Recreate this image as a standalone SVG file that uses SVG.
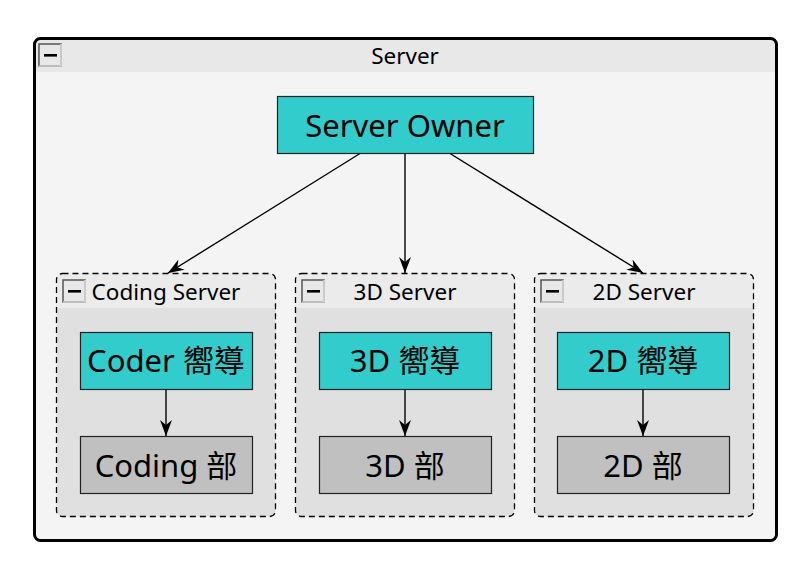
<svg xmlns="http://www.w3.org/2000/svg" width="810" height="584" viewBox="0 0 810 584">
<style>
text{font-family:"Noto Sans","Noto Sans CJK TC",sans-serif;fill:#000;text-anchor:middle;dominant-baseline:central}
.title{font-size:22.5px}
.big{font-size:31px}
.lead{fill:#33cccc;stroke:#222;stroke-width:1.2}
.dept{fill:#c0c0c0;stroke:#222;stroke-width:1.2}
.grp{fill:#e0e0e0;stroke:none}
.grphd{fill:#ebebeb}
.grpbd{fill:none;stroke:#000;stroke-width:1.3;stroke-dasharray:6,4}
.edge{stroke:#000;stroke-width:1.4;fill:none;marker-end:url(#arr)}
</style>
<defs>
<marker id="arr" viewBox="0 0 16 12" refX="16" refY="6" markerWidth="16" markerHeight="12" markerUnits="userSpaceOnUse" orient="auto">
<path d="M0,0 L16,6 L0,12 L5,6 Z" fill="#000"/>
</marker>
<symbol id="minus" viewBox="0 0 24 24">
<rect x="1" y="1" width="22" height="22" fill="#e8e8e8" stroke="#555" stroke-width="1.5"/>
<path d="M1,23 H23 V1" fill="none" stroke="#fff" stroke-width="1.2"/>
<rect x="6" y="11" width="13" height="2.6" fill="#000"/>
</symbol>
</defs>
<rect width="810" height="584" fill="#fff"/>
<g id="server">
<rect x="34.5" y="38.5" width="742" height="502" rx="6" fill="#f4f4f4"/>
<path d="M36,72 V44 a5,5 0 0 1 5,-5 H770 a5,5 0 0 1 5,5 V72 Z" fill="#e8e8e8"/>
<rect x="34.5" y="38.5" width="742" height="502" rx="6" fill="none" stroke="#000" stroke-width="3"/>
<use href="#minus" x="38" y="43" width="24" height="24"/>
<text class="title" x="405" y="55">Server</text>
</g>
<g id="owner">
<rect class="lead" x="277.5" y="96.5" width="256" height="57"/>
<text class="big" x="405" y="125">Server Owner</text>
</g>
<g id="coding-server">
<rect class="grp" x="56.5" y="273.5" width="219" height="243" rx="6"/>
<path d="M57,308 V279 a5,5 0 0 1 5,-5 H270 a5,5 0 0 1 5,5 V308 Z" class="grphd"/>
<rect class="grpbd" x="56.5" y="273.5" width="219" height="243" rx="6"/>
<use href="#minus" x="62" y="279" width="24" height="24"/>
<text class="title" x="166" y="291">Coding Server</text>
</g>
<g id="coder-lead">
<rect class="lead" x="80.5" y="332.5" width="172" height="57"/>
<text class="big" x="166" y="360">Coder 嚮導</text>
</g>
<g id="coding-dept">
<rect class="dept" x="80.5" y="436.5" width="172" height="57"/>
<text class="big" x="166" y="465">Coding 部</text>
</g>
<g id="3d-server">
<rect class="grp" x="295.5" y="273.5" width="219" height="243" rx="6"/>
<path d="M296,308 V279 a5,5 0 0 1 5,-5 H509 a5,5 0 0 1 5,5 V308 Z" class="grphd"/>
<rect class="grpbd" x="295.5" y="273.5" width="219" height="243" rx="6"/>
<use href="#minus" x="301" y="279" width="24" height="24"/>
<text class="title" x="405" y="291">3D Server</text>
</g>
<g id="3d-lead">
<rect class="lead" x="319.5" y="332.5" width="172" height="57"/>
<text class="big" x="405" y="360">3D 嚮導</text>
</g>
<g id="3d-dept">
<rect class="dept" x="319.5" y="436.5" width="172" height="57"/>
<text class="big" x="405" y="465">3D 部</text>
</g>
<g id="2d-server">
<rect class="grp" x="534.5" y="273.5" width="219" height="243" rx="6"/>
<path d="M535,308 V279 a5,5 0 0 1 5,-5 H748 a5,5 0 0 1 5,5 V308 Z" class="grphd"/>
<rect class="grpbd" x="534.5" y="273.5" width="219" height="243" rx="6"/>
<use href="#minus" x="540" y="279" width="24" height="24"/>
<text class="title" x="644" y="291">2D Server</text>
</g>
<g id="2d-lead">
<rect class="lead" x="557.5" y="332.5" width="172" height="57"/>
<text class="big" x="643" y="360">2D 嚮導</text>
</g>
<g id="2d-dept">
<rect class="dept" x="557.5" y="436.5" width="172" height="57"/>
<text class="big" x="643" y="465">2D 部</text>
</g>
<g id="connectors">
<path class="edge" d="M360,153.5 L168,273"/>
<path class="edge" d="M405,153.5 L405,273"/>
<path class="edge" d="M450,153.5 L643,273"/>
<path class="edge" d="M166,389.5 L166,436"/>
<path class="edge" d="M405,389.5 L405,436"/>
<path class="edge" d="M643,389.5 L643,436"/>
</g>
</svg>
